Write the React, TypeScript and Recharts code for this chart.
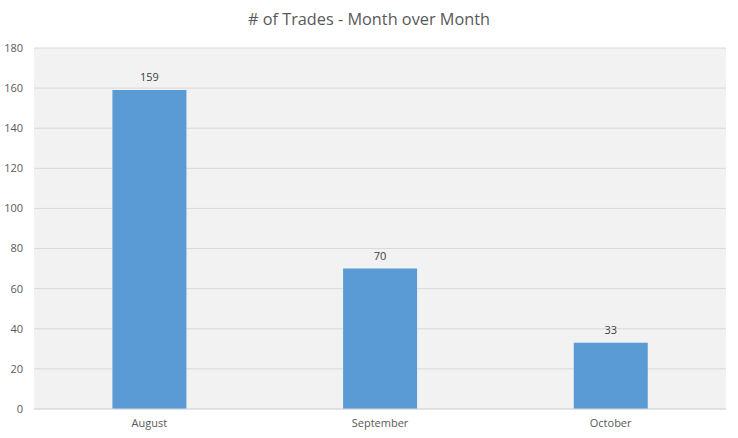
import React from "react";
import { BarChart, Bar, XAxis, YAxis, CartesianGrid, LabelList } from "recharts";

const months = ["August", "September", "October"];
const trades = [159, 70, 33];
const yTicks = [0, 20, 40, 60, 80, 100, 120, 140, 160, 180];

const data = months.map((m, i) => ({ month: m, trades: trades[i] }));

const font = "'Open Sans', sans-serif";

const App: React.FC = () => {
    return (
        <div style={{ position: "absolute", left: 0, top: 0, width: 738, height: 438, background: "#fff", fontFamily: font }}>
            <div style={{ position: "absolute", top: 8, width: 738, textAlign: "center", fontSize: 16.3, color: "#595959" }}>
                # of Trades - Month over Month
            </div>
            <BarChart width={738} height={438} data={data} margin={{ top: 48, right: 12, left: 0, bottom: 0 }} barCategoryGap="34%">
                <CartesianGrid vertical={false} fill="#f2f2f2" stroke="#d9d9d9" />
                <XAxis dataKey="month" axisLine={{ stroke: "#d9d9d9" }} tickLine={false} tickSize={0} tickMargin={10}
                    tick={{ fill: "#595959", fontSize: 11, fontFamily: font }} height={29} />
                <YAxis domain={[0, 180]} ticks={yTicks} axisLine={false} tickLine={false} tickSize={0} tickMargin={11}
                    width={34} tick={{ fill: "#595959", fontSize: 11, fontFamily: font }} />
                <Bar dataKey="trades" fill="#5b9bd5" isAnimationActive={false}>
                    <LabelList dataKey="trades" position="top" offset={9} fill="#404040" fontSize={11} fontFamily={font} />
                </Bar>
            </BarChart>
        </div>
    );
};

export default App;
